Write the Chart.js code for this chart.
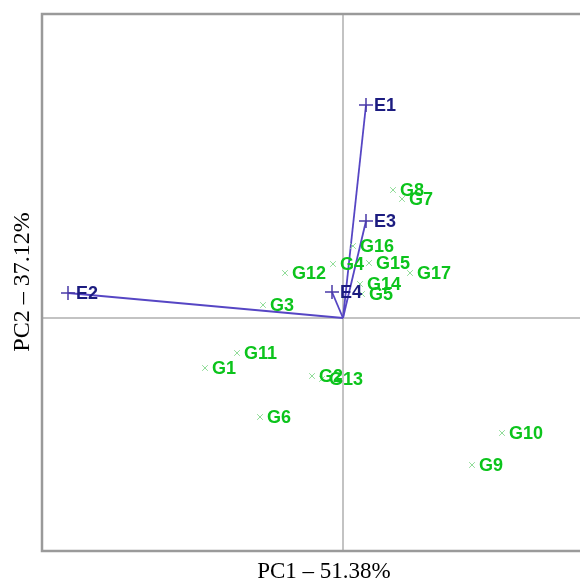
<!DOCTYPE html>
<html><head><meta charset="utf-8">
<script src="https://cdn.jsdelivr.net/npm/chart.js@4/dist/chart.umd.min.js"></script>
<style>html,body{margin:0;padding:0;background:#fff;overflow:hidden}#wrap{width:580px;height:584px}canvas{display:block}</style>
</head><body><div id="wrap"><canvas id="c" width="580" height="584"></canvas></div>
<script>
// Genotype scores (PC1, PC2)
const genotypes = ["G1","G2","G3","G4","G5","G6","G7","G8","G9","G10","G11","G12","G13","G14","G15","G16","G17"];
const genoPC1 = [-1.38,-0.31,-0.80,-0.10,0.19,-0.83,0.59,0.50,1.29,1.59,-1.06,-0.58,-0.21,0.17,0.26,0.10,0.67];
const genoPC2 = [-0.50,-0.58,0.13,0.54,0.24,-0.99,1.19,1.28,-1.47,-1.15,-0.35,0.45,-0.61,0.34,0.55,0.72,0.45];
// Environment vectors (PC1, PC2)
const envs = ["E1","E2","E3","E4"];
const envPC1 = [0.23,-2.75,0.23,-0.11];
const envPC2 = [2.13,0.25,0.97,0.26];
const xTitle = "PC1 \u2013 51.38%";
const yTitle = "PC2 \u2013 37.12%";

const gPts = genotypes.map((g,i)=>({x:genoPC1[i],y:genoPC2[i]}));
const ePts = envs.map((e,i)=>({x:envPC1[i],y:envPC2[i]}));
const vecSets = envs.map((e,i)=>({
  type:'line', data:[{x:0,y:0},{x:envPC1[i],y:envPC2[i]}],
  borderColor:'#5646c4', borderWidth:1.8, pointRadius:0, fill:false, order:3
}));

const decor = {
  id:'decor',
  beforeDatasetsDraw(chart){
    const {ctx, chartArea:a, scales:{x,y}} = chart;
    ctx.save();
    const x0 = x.getPixelForValue(0), y0 = y.getPixelForValue(0);
    ctx.strokeStyle='#b0b0b0'; ctx.lineWidth=1.5;
    ctx.beginPath(); ctx.moveTo(x0,a.top); ctx.lineTo(x0,a.bottom);
    ctx.moveTo(a.left,y0); ctx.lineTo(a.right,y0); ctx.stroke();
    ctx.strokeStyle='#9a9a9a'; ctx.lineWidth=2.5;
    ctx.beginPath(); ctx.moveTo(a.right+2,a.top); ctx.lineTo(a.left,a.top);
    ctx.lineTo(a.left,a.bottom); ctx.lineTo(a.right+2,a.bottom); ctx.stroke();
    ctx.restore();
  },
  afterDatasetsDraw(chart){
    const {ctx, scales:{x,y}} = chart;
    ctx.save();
    ctx.font='bold 18px "Liberation Sans", Arial, sans-serif';
    ctx.textBaseline='middle'; ctx.textAlign='left';
    ctx.fillStyle='#0cc41c';
    genotypes.forEach((g,i)=>{
      ctx.fillText(g, x.getPixelForValue(genoPC1[i])+7, y.getPixelForValue(genoPC2[i])+1);
    });
    ctx.fillStyle='#1c1c80';
    envs.forEach((e,i)=>{
      ctx.fillText(e, x.getPixelForValue(envPC1[i])+8, y.getPixelForValue(envPC2[i])+1);
    });
    ctx.fillStyle='#000';
    ctx.font='23px "Liberation Serif", "Times New Roman", serif';
    ctx.textAlign='center';
    ctx.fillText(xTitle, 324, 572);
    ctx.translate(23, 282); ctx.rotate(-Math.PI/2);
    ctx.font='24px "Liberation Serif", "Times New Roman", serif';
    ctx.fillText(yTitle, 0, 0);
    ctx.restore();
  }
};

new Chart(document.getElementById('c'), {
  type:'scatter',
  data:{datasets:[
    ...vecSets,
    {label:'Genotypes', data:gPts, pointStyle:'crossRot', pointRadius:4, borderColor:'#90dc98', borderWidth:1, order:2},
    {label:'Environments', data:ePts, pointStyle:'cross', pointRadius:7, borderColor:'#4a3aa8', borderWidth:1.5, order:1}
  ]},
  options:{
    responsive:false, animation:false, devicePixelRatio:1,
    layout:{autoPadding:false, padding:{left:42,top:14,right:0,bottom:33}},
    plugins:{legend:{display:false},tooltip:{enabled:false}},
    scales:{
      x:{type:'linear',min:-3.01,max:2.37,display:false},
      y:{type:'linear',min:-2.33,max:3.04,display:false}
    }
  },
  plugins:[decor]
});
</script></body></html>
